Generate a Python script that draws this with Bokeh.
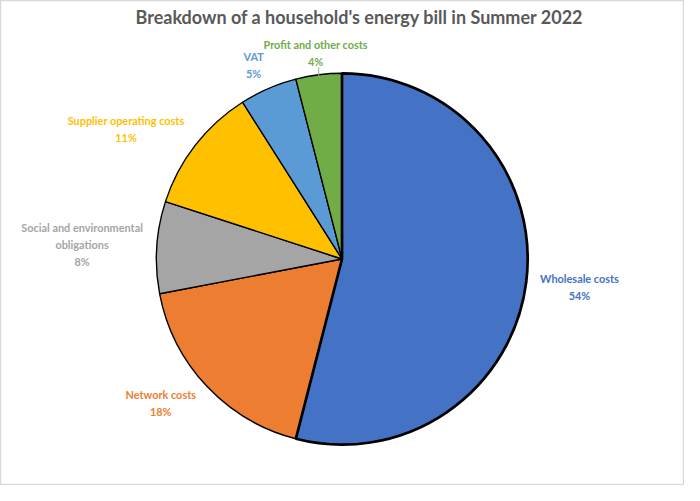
import numpy as np
from bokeh.plotting import figure
from bokeh.models import Range1d, ColumnDataSource, CDSView, IndexFilter
from bokeh.core.properties import value
from bokeh.embed import file_html
from bokeh.resources import INLINE

# ---- data ----
categories = ["Wholesale costs", "Network costs", "Social and environmental obligations",
              "Supplier operating costs", "VAT", "Profit and other costs"]
shares = [54, 18, 8, 11, 5, 4]
label_lines = ["Wholesale costs", "Network costs", "Social and environmental\nobligations",
               "Supplier operating costs", "VAT", "Profit and other costs"]
title_text = "Breakdown of a household's energy bill in Summer 2022"

# ---- style / layout (layout in a 700x501 reference space) ----
colors = ["#4472C4", "#ED7D31", "#A5A5A5", "#FFC000", "#5B9BD5", "#70AD47"]
outline_w = [2.7, 1.4, 1.4, 1.4, 1.4, 1.4]
REF_W, REF_H = 700, 501
W, H = 684, 485
CX, CY_REF, R = 349.5, 267, 190
label_x = [592.5, 164, 83.5, 128.5, 259, 322.5]
label_y_ref = [296, 416, 252, 133, 67, 54]
FONT = value("Lato")

def fy(y_ref):
    return REF_H - y_ref

CY = fy(CY_REF)
frac = np.array(shares, dtype=float) / np.sum(shares)
cum = np.concatenate([[0.0], np.cumsum(frac)])
start = np.pi / 2 - 2 * np.pi * cum[:-1]
end = np.pi / 2 - 2 * np.pi * cum[1:]

src = ColumnDataSource(dict(cat=categories, start=start, end=end, color=colors, lw=outline_w))

p = figure(width=W, height=H, x_range=Range1d(0, REF_W), y_range=Range1d(0, REF_H),
           output_backend="svg", toolbar_location=None, min_border=0,
           x_axis_location=None, y_axis_location=None)
p.grid.visible = False
p.outline_line_color = "#D9D9D9"
p.outline_line_width = 1.5
p.background_fill_color = "white"
p.border_fill_color = "white"

others = CDSView(filter=IndexFilter(list(range(1, len(shares)))))
first = CDSView(filter=IndexFilter([0]))
p.wedge(x=CX, y=CY, radius=R, start_angle="start", end_angle="end", direction="clock",
        fill_color="color", line_color="black", line_width="lw", source=src, view=others)
p.wedge(x=CX, y=CY, radius=R, start_angle="start", end_angle="end", direction="clock",
        fill_color="color", line_color="black", line_width="lw", source=src, view=first)

# leader line for the smallest slice
mid = (start[-1] + end[-1]) / 2
lx = CX + R * np.cos(mid)
ly = CY + R * np.sin(mid)
p.line(x=[lx, lx], y=[ly, fy(69)], line_color="#A6A6A6", line_width=1)

texts = [f"{l}\n{s}%" for l, s in zip(label_lines, shares)]
p.text(x=label_x, y=[fy(v) for v in label_y_ref], text=texts, text_align="center",
       text_baseline="middle", text_font=FONT, text_font_style="bold", text_font_size="10.9px",
       text_color=colors, text_line_height=1.3)

p.text(x=[367.5], y=[fy(17)], text=[title_text], text_align="center", text_baseline="middle",
       text_font=FONT, text_font_style="bold", text_font_size="18px", text_color="#595959")

open("out.html", "w").write(file_html(p, INLINE))
